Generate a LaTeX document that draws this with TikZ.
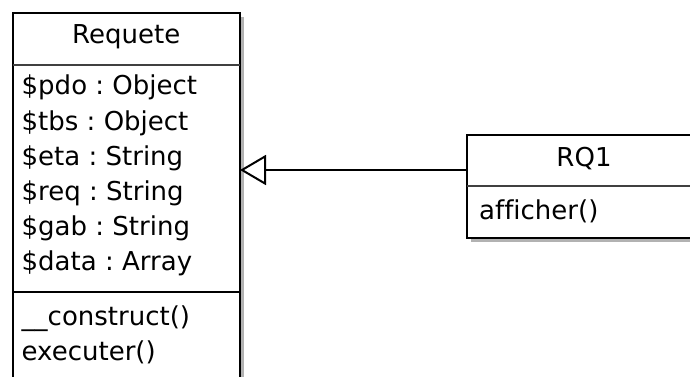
\documentclass[tikz,border=0pt]{standalone}
\usepackage{fontspec}
\setmainfont{DejaVu Sans}[Ligatures=NoCommon]
\frenchspacing
\usetikzlibrary{positioning, calc, shadows, arrows.meta}

\begin{document}
\begin{tikzpicture}[x=1pt, y=-1pt,
	classframe/.style={draw, line width=2pt, fill=white, outer sep=0pt, anchor=north west,
		drop shadow={shadow xshift=4pt, shadow yshift=-4pt, fill=black!30, opacity=1}},
	classname/.style={font=\fontsize{26}{30}\selectfont, anchor=base, inner sep=0pt},
	member/.style={font=\fontsize{26}{30}\selectfont, anchor=base west, inner sep=0pt},
	thindivider/.style={line width=1.2pt, draw=black!75},
	thickdivider/.style={line width=2pt},
	generalization/.style={-{Triangle[open, length=26pt, width=30pt]}, line width=2pt}]
	\useasboundingbox (0,0) rectangle (690,377);

	\node[classframe, minimum width=227.5pt, minimum height=407pt] (requete) at (12.5,13) {};
	\node[classframe, minimum width=234pt, minimum height=103pt] (rq1) at (467,135) {};

	\draw[thindivider] ([yshift=-52pt]requete.north west) -- ([yshift=-52pt]requete.north east);
	\draw[thickdivider] ([yshift=-279pt]requete.north west) -- ([yshift=-279pt]requete.north east);
	\draw[thindivider] ([yshift=-51pt]rq1.north west) -- ([yshift=-51pt]rq1.north east);

	\node[classname] (requetename) at ([yshift=-31pt]requete.north) {Requete};
	\foreach \txt [count=\i] in {\$pdo : Object, \$tbs : Object, \$eta : String, \$req : String, \$gab : String, \$data : Array}
		\node[member] (requeteattr\i) at ([xshift=9pt, yshift={-47pt-35pt*\i}]requete.north west) {\txt};
	\foreach \txt [count=\i] in {\_\_construct(), executer()}
		\node[member] (requeteop\i) at ([xshift=9pt, yshift={-277pt-35pt*\i}]requete.north west) {\txt};

	\node[classname] (rq1name) at ([yshift=-31pt]rq1.north) {RQ1};
	\node[member] (rq1op1) at ([xshift=12pt, yshift=-84pt]rq1.north west) {afficher()};

	\coordinate (genfoot) at ($(rq1.north west)+(0,35)$);
	\draw[generalization] (genfoot) -- (genfoot -| requete.east);
\end{tikzpicture}
\end{document}
